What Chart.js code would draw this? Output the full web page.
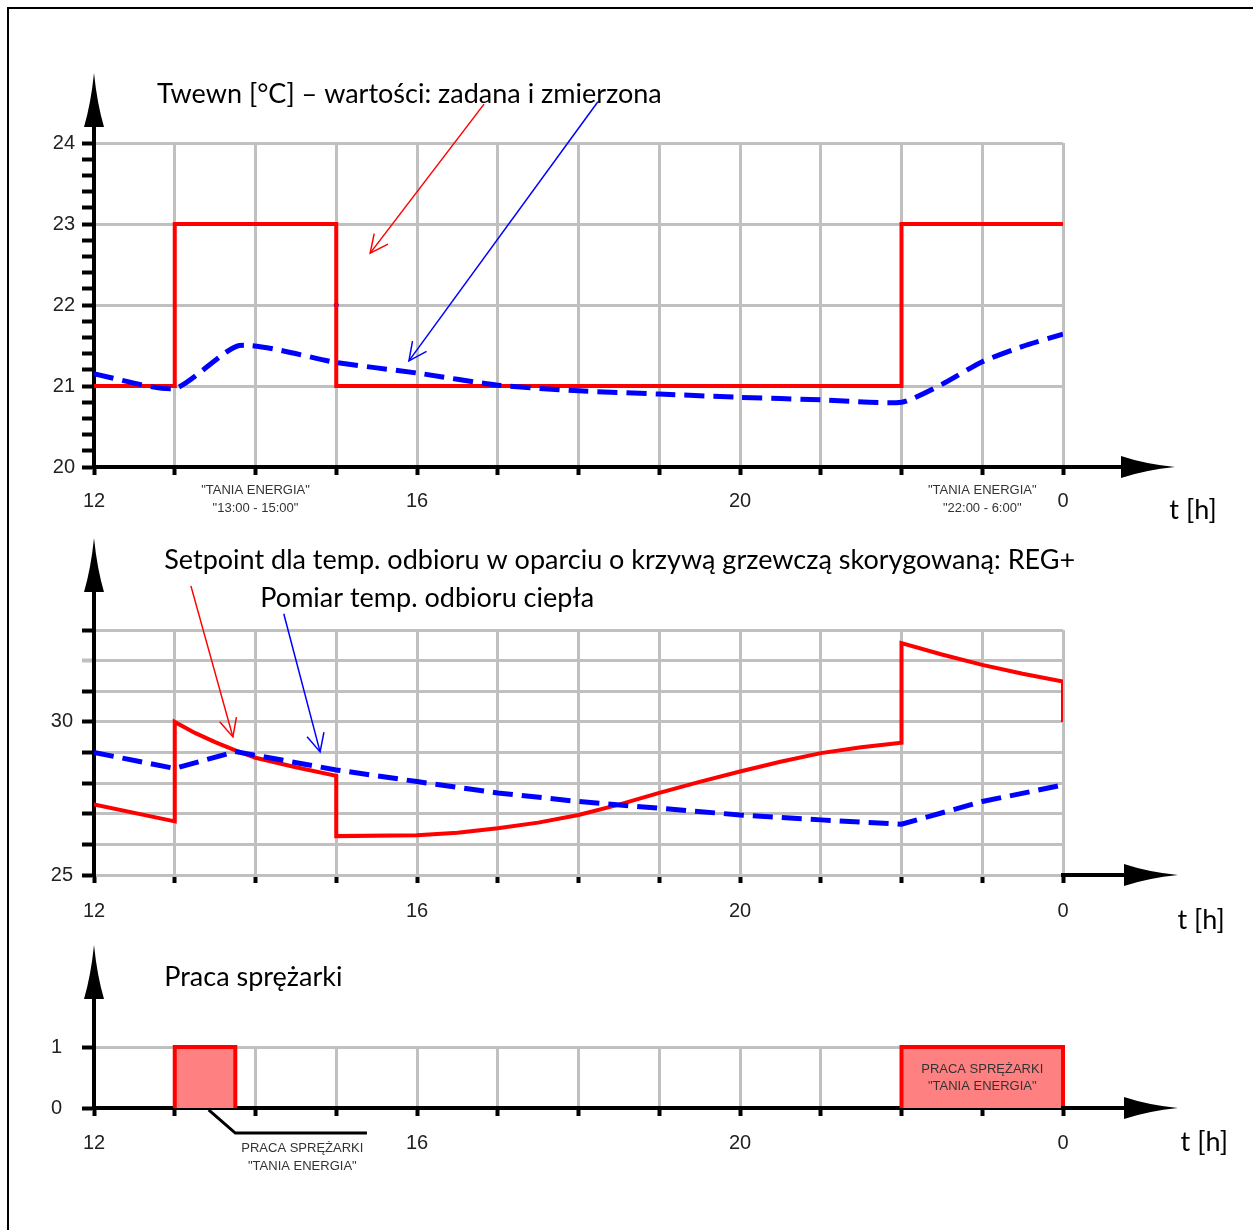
<!DOCTYPE html>
<html>
<head>
<meta charset="utf-8">
<script src="https://cdn.jsdelivr.net/npm/chart.js@4"></script>
<style>
  body { margin: 0; background: #fff; }
  #page { position: relative; width: 1253px; height: 1230px; overflow: hidden; }
  #frame { position: absolute; left: 7px; top: 7px; right: -10px; bottom: -10px; border-left: 2px solid #000; border-top: 2px solid #000; }
  canvas { position: absolute; left: 0; }
</style>
</head>
<body>
<div id="page">
  <div id="frame"></div>
  <canvas id="chartRoom" width="1253" height="530" style="top:0"></canvas>
  <canvas id="chartFlow" width="1253" height="405" style="top:530px"></canvas>
  <canvas id="chartComp" width="1253" height="295" style="top:935px"></canvas>
</div>
<script>
// czas [h], 12:00 - 24:00
const xTicks = [12, 16, 20, 24];
const xTickLabels = ['12', '16', '20', '0'];

// Twewn - zadana (schodkowa) i zmierzona
const roomSetX = [12, 13, 15, 22, 24];
const roomSetY = [21, 23, 21, 23, 23];
const roomMeasX = [12, 13, 13.8, 15, 16, 17, 18, 19, 20, 21, 22, 22.5, 23, 23.5, 24];
const roomMeasY = [21.15, 20.97, 21.5, 21.29, 21.16, 21.01, 20.94, 20.9, 20.86, 20.83, 20.8, 21.02, 21.3, 21.49, 21.64];
const roomDotX = [15];
const roomDotY = [22];
const roomYLabels = [20, 21, 22, 23, 24];

// temp. odbioru - setpoint REG+ i pomiar
const flowSetX = [12, 13, 13, 13.25, 13.5, 13.75, 14, 14.5, 15, 15, 16, 16.5, 17, 17.5, 18, 18.5, 19, 19.5, 20, 20.5, 21, 21.5, 22, 22, 22.5, 23, 23.5, 24, 24];
const flowSetY = [27.3, 26.75, 30.0, 29.64, 29.34, 29.07, 28.83, 28.52, 28.24, 26.27, 26.3, 26.38, 26.53, 26.71, 26.96, 27.3, 27.68, 28.04, 28.38, 28.7, 28.98, 29.17, 29.32, 32.57, 32.2, 31.86, 31.57, 31.32, 30.0];
const flowMeasX = [12, 13, 13.75, 15, 16, 17, 18, 19, 20, 21, 22, 23, 24];
const flowMeasY = [29.0, 28.48, 29.03, 28.43, 28.05, 27.68, 27.4, 27.18, 26.96, 26.8, 26.66, 27.4, 27.94];
const flowYLabels = [25, 30];

// praca sprezarki (0/1)
const compDayX = [13, 13, 13.75, 13.75];
const compDayY = [0, 1, 1, 0];
const compNightX = [22, 22, 24, 24];
const compNightY = [0, 1, 1, 0];

const RED = '#ff0000';
const BLUE = '#0000ff';
const GRID = '#c0c0c0';
const TICK_FONT = { family: 'Liberation Sans, Arial, sans-serif', size: 20 };
const TITLE_FONT = '27px Lato, "Open Sans", sans-serif';
const SMALL_FONT = '13px "Liberation Sans", Arial, sans-serif';

function pts(xs, ys) {
    return xs.map((x, i) => ({ x: x, y: ys[i] }));
}

function isLabelled(v, list) {
    return list.some(l => Math.abs(l - v) < 1e-6);
}

function arrowHead(ctx, x1, y1, x2, y2, len) {
    const ang = Math.atan2(y2 - y1, x2 - x1);
    ctx.beginPath();
    ctx.moveTo(x2 - len * Math.cos(ang - 0.45), y2 - len * Math.sin(ang - 0.45));
    ctx.lineTo(x2, y2);
    ctx.lineTo(x2 - len * Math.cos(ang + 0.45), y2 - len * Math.sin(ang + 0.45));
    ctx.stroke();
}

// strzalki osi, opisy, strzalki z opisow
const decoPlugin = {
    id: 'deco',
    afterDraw(chart, args, opts) {
        const ctx = chart.ctx;
        const a = chart.chartArea;
        const sx = chart.scales.x, sy = chart.scales.y;
        const px = v => sx.getPixelForValue(v);
        const py = v => sy.getPixelForValue(v);
        ctx.save();

        // os Y ze strzalka
        ctx.strokeStyle = '#000';
        ctx.fillStyle = '#000';
        ctx.lineWidth = 4;
        ctx.beginPath();
        ctx.moveTo(a.left, a.top);
        ctx.lineTo(a.left, a.top - opts.yArrow + 40);
        ctx.stroke();
        ctx.beginPath();
        ctx.moveTo(a.left, a.top - opts.yArrow);
        ctx.quadraticCurveTo(a.left + 3, a.top - opts.yArrow + 30, a.left + 10, a.top - opts.yArrow + 54);
        ctx.lineTo(a.left - 10, a.top - opts.yArrow + 54);
        ctx.quadraticCurveTo(a.left - 3, a.top - opts.yArrow + 30, a.left, a.top - opts.yArrow);
        ctx.fill();

        // os X ze strzalka
        ctx.beginPath();
        ctx.moveTo(a.right - 2, a.bottom);
        ctx.lineTo(a.right + opts.xArrow - 40, a.bottom);
        ctx.stroke();
        ctx.beginPath();
        ctx.moveTo(a.right + opts.xArrow, a.bottom);
        ctx.quadraticCurveTo(a.right + opts.xArrow - 30, a.bottom - 3, a.right + opts.xArrow - 54, a.bottom - 11);
        ctx.lineTo(a.right + opts.xArrow - 54, a.bottom + 11);
        ctx.quadraticCurveTo(a.right + opts.xArrow - 30, a.bottom + 3, a.right + opts.xArrow, a.bottom);
        ctx.fill();

        // linie odniesienia
        (opts.leaders || []).forEach(l => {
            ctx.strokeStyle = '#000';
            ctx.lineWidth = 3;
            ctx.beginPath();
            l.xs.forEach((v, i) => {
                if (i === 0) ctx.moveTo(px(v), py(l.ys[i]));
                else ctx.lineTo(px(v), py(l.ys[i]));
            });
            ctx.stroke();
        });

        // strzalki z opisow
        (opts.arrows || []).forEach(ar => {
            ctx.strokeStyle = ar.color;
            ctx.lineWidth = 1.5;
            const x1 = px(ar.from[0]), y1 = py(ar.from[1]);
            const x2 = px(ar.to[0]), y2 = py(ar.to[1]);
            ctx.beginPath();
            ctx.moveTo(x1, y1);
            ctx.lineTo(x2, y2);
            ctx.stroke();
            arrowHead(ctx, x1, y1, x2, y2, 20);
        });

        // teksty
        ctx.textBaseline = 'middle';
        (opts.texts || []).forEach(t => {
            ctx.font = t.font;
            ctx.fillStyle = t.color || '#000';
            ctx.textAlign = t.align || 'left';
            ctx.fillText(t.text, px(t.x), py(t.y));
        });
        ctx.restore();
    }
};

function xScale(axisColor, axisWidth, labelPad, height) {
    return {
        type: 'linear',
        min: 12,
        max: 24,
        afterFit: s => { s.height = height; },
        border: { color: axisColor, width: axisWidth },
        grid: { color: GRID, lineWidth: 3, tickColor: '#000', tickWidth: 4, tickLength: 8 },
        ticks: {
            stepSize: 1,
            autoSkip: false,
            maxRotation: 0,
            padding: labelPad,
            color: '#222',
            font: TICK_FONT,
            callback: v => {
                const i = xTicks.indexOf(v);
                return i >= 0 ? xTickLabels[i] : '';
            }
        }
    };
}

function yScale(min, max, step, labels, labelPad, gridFn, tickColorFn) {
    return {
        type: 'linear',
        min: min,
        max: max,
        afterFit: s => { s.width = 94; },
        border: { color: '#000', width: 4 },
        grid: {
            color: gridFn,
            lineWidth: 3,
            tickColor: tickColorFn || '#000',
            tickWidth: 4,
            tickLength: 12
        },
        ticks: {
            stepSize: step,
            autoSkip: false,
            padding: labelPad,
            color: '#222',
            font: TICK_FONT,
            callback: v => isLabelled(v, labels) ? String(Math.round(v)) : ''
        }
    };
}

const baseOptions = (top, deco, scales) => ({
    responsive: false,
    animation: false,
    events: [],
    layout: { padding: { top: top, right: 190, left: 0, bottom: 0 } },
    plugins: { legend: { display: false }, tooltip: { enabled: false }, deco: deco },
    elements: { point: { radius: 0 } },
    scales: scales
});

function initRoomChart() {
    new Chart(document.getElementById('chartRoom'), {
        type: 'line',
        data: {
            datasets: [
                {
                    label: 'zmierzona',
                    data: pts(roomMeasX, roomMeasY),
                    borderColor: BLUE,
                    borderWidth: 5,
                    borderDash: [20, 9],
                    tension: 0.2
                },
                {
                    label: 'zadana',
                    data: pts(roomSetX, roomSetY),
                    borderColor: RED,
                    borderWidth: 4,
                    stepped: true
                },
                {
                    label: 'punkt',
                    data: pts(roomDotX, roomDotY),
                    showLine: false,
                    pointRadius: 2.5,
                    pointBackgroundColor: BLUE,
                    pointBorderWidth: 0
                }
            ]
        },
        options: baseOptions(143, {
            yArrow: 70,
            xArrow: 112,
            arrows: [
                { color: RED, from: [16.83, 24.48], to: [15.42, 22.64] },
                { color: BLUE, from: [18.24, 24.51], to: [15.9, 21.31] }
            ],
            texts: [
                { text: 'Twewn [\u00B0C] \u2013 warto\u015Bci: zadana i zmierzona', x: 12.78, y: 24.6, font: TITLE_FONT },
                { text: '"TANIA ENERGIA"', x: 14, y: 19.716, font: SMALL_FONT, color: '#333', align: 'center' },
                { text: '"13:00 - 15:00"', x: 14, y: 19.494, font: SMALL_FONT, color: '#333', align: 'center' },
                { text: '"TANIA ENERGIA"', x: 23, y: 19.716, font: SMALL_FONT, color: '#333', align: 'center' },
                { text: '"22:00 - 6:00"', x: 23, y: 19.494, font: SMALL_FONT, color: '#333', align: 'center' },
                { text: 't [h]', x: 25.61, y: 19.47, font: TITLE_FONT, align: 'center' }
            ]
        }, {
            x: xScale('#000', 4, 14, 63),
            y: yScale(20, 24, 0.2, roomYLabels, 7,
                c => Number.isInteger(Math.round(c.tick.value * 1000) / 1000) ? GRID : 'rgba(0,0,0,0)')
        }),
        plugins: [decoPlugin]
    });
}

function initFlowChart() {
    new Chart(document.getElementById('chartFlow'), {
        type: 'line',
        data: {
            datasets: [
                {
                    label: 'Pomiar temp. odbioru',
                    data: pts(flowMeasX, flowMeasY),
                    borderColor: BLUE,
                    borderWidth: 5,
                    borderDash: [20, 9]
                },
                {
                    label: 'Setpoint REG+',
                    data: pts(flowSetX, flowSetY),
                    borderColor: RED,
                    borderWidth: 4
                }
            ]
        },
        options: baseOptions(100, {
            yArrow: 92,
            xArrow: 115,
            arrows: [
                { color: RED, from: [13.2, 34.44], to: [13.72, 29.51] },
                { color: BLUE, from: [14.35, 33.53], to: [14.8, 29.02] }
            ],
            texts: [
                { text: 'Setpoint dla temp. odbioru w oparciu o krzyw\u0105 grzewcz\u0105 skorygowan\u0105: REG+', x: 12.87, y: 35.29, font: TITLE_FONT },
                { text: 'Pomiar temp. odbioru ciep\u0142a', x: 14.06, y: 34.05, font: TITLE_FONT },
                { text: 't [h]', x: 25.71, y: 23.53, font: TITLE_FONT, align: 'center' }
            ]
        }, {
            x: xScale(GRID, 3, 16, 60),
            y: yScale(25, 33, 1, flowYLabels, 9, () => GRID,
                c => c.tick.value === 32 ? GRID : '#000')
        }),
        plugins: [decoPlugin]
    });
}

function initCompChart() {
    const boxStyle = {
        borderColor: RED,
        borderWidth: 4,
        backgroundColor: '#ff8080',
        fill: 'origin',
        clip: false
    };
    new Chart(document.getElementById('chartComp'), {
        type: 'line',
        data: {
            datasets: [
                Object.assign({ label: 'Praca 13:00', data: pts(compDayX, compDayY) }, boxStyle),
                Object.assign({ label: 'Praca 22:00', data: pts(compNightX, compNightY) }, boxStyle)
            ]
        },
        options: baseOptions(112, {
            yArrow: 102,
            xArrow: 115,
            leaders: [
                { xs: [13.42, 13.75, 15.38], ys: [-0.03, -0.41, -0.41] }
            ],
            texts: [
                { text: 'Praca spr\u0119\u017Carki', x: 12.87, y: 2.15, font: TITLE_FONT },
                { text: 'PRACA SPR\u0118\u017BARKI', x: 23, y: 0.64, font: SMALL_FONT, color: '#333', align: 'center' },
                { text: '"TANIA ENERGIA"', x: 23, y: 0.36, font: SMALL_FONT, color: '#333', align: 'center' },
                { text: 'PRACA SPR\u0118\u017BARKI', x: 14.58, y: -0.66, font: SMALL_FONT, color: '#333', align: 'center' },
                { text: '"TANIA ENERGIA"', x: 14.58, y: -0.95, font: SMALL_FONT, color: '#333', align: 'center' },
                { text: 't [h]', x: 25.75, y: -0.57, font: TITLE_FONT, align: 'center' }
            ]
        }, {
            x: xScale('#000', 4, 15, 122),
            y: yScale(0, 1, 1, [0, 1], 20, () => GRID)
        }),
        plugins: [decoPlugin]
    });
}

document.addEventListener('DOMContentLoaded', function() {
    initRoomChart();
    initFlowChart();
    initCompChart();
});
</script>
</body>
</html>
